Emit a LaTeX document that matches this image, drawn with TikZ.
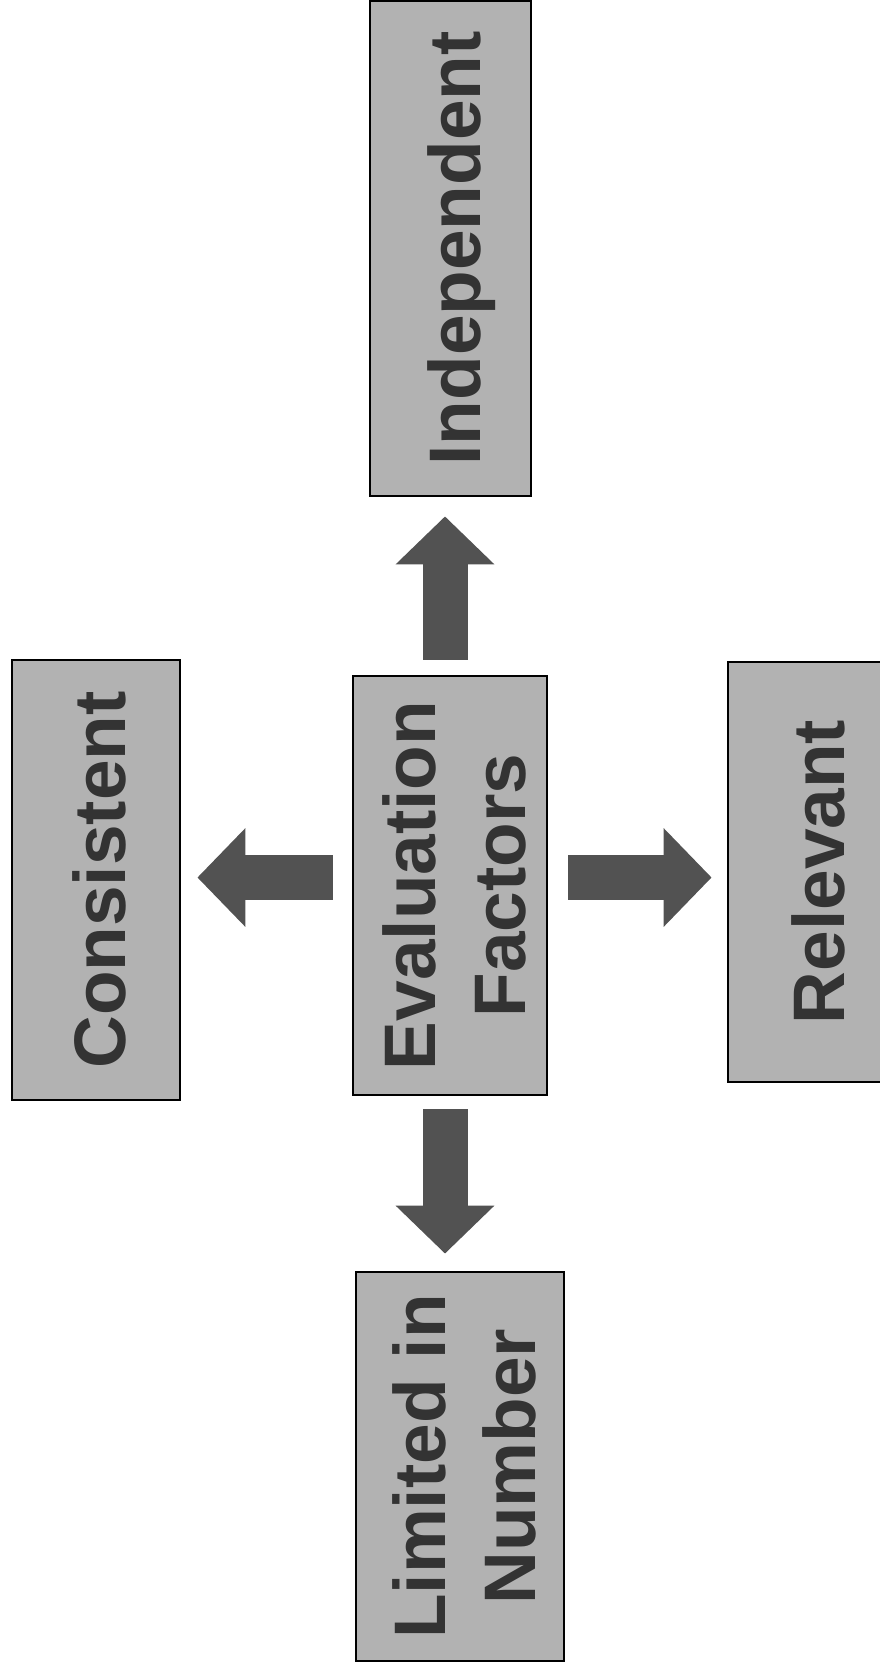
\documentclass[tikz,border=0pt]{standalone}
\usepackage{fontspec}
\setmainfont{Liberation Sans}
\usepackage{graphicx}
\usetikzlibrary{calc}
\usetikzlibrary{arrows.meta}
\newcommand{\factorfont}{\fontsize{36.5}{45}\selectfont\bfseries}
\newcommand{\vtext}[1]{\hspace*{6pt}\rotatebox{90}{\begin{tabular}{@{}c@{}}#1\end{tabular}}\hspace*{-6pt}}
\tikzstyle{factorbox}=[draw=black,line width=1.4pt,fill=black!30,text=black!80,inner sep=0pt,font=\factorfont]
\tikzstyle{fatarrow}=[draw=black!68,line width=22.5pt,-{Triangle[width=48pt,length=24pt]}]

\begin{document}
\begin{tikzpicture}[x=0.5pt,y=-0.5pt]
  \useasboundingbox (0,0) rectangle (879,1671);
  % boxes
  \node[factorbox,minimum width=97pt,minimum height=209.5pt] (eval) at (450,885.5) {\vtext{Evaluation\\Factors}};
  \node[factorbox,minimum width=80.5pt,minimum height=247.5pt] (indep) at (450.5,248.5) {\vtext{Independent}};
  \node[factorbox,minimum width=84pt,minimum height=220pt] (consist) at (96,880) {\vtext{Consistent}};
  \node[factorbox,minimum width=86pt,minimum height=210pt] (relev) at (814,872) {\vtext{Relevant}};
  \node[factorbox,minimum width=104pt,minimum height=194.5pt] (limit) at (460,1466.5) {\vtext{Limited in\\Number}};
  % arrows
  \draw[fatarrow,shorten <=7.5pt,shorten >=9.5pt] ([xshift=-2.5pt]eval.north) -- ([xshift=-2.5pt]eval.north |- indep.south);
  \draw[fatarrow,shorten <=6.5pt,shorten >=8.5pt] ([xshift=-2.5pt]eval.south) -- ([xshift=-2.5pt]eval.south |- limit.north);
  \draw[fatarrow,shorten <=9.5pt,shorten >=8pt] ([yshift=4pt]eval.west) -- ([yshift=4pt]eval.west -| consist.east);
  \draw[fatarrow,shorten <=10pt,shorten >=7.5pt] ([yshift=4pt]eval.east) -- ([yshift=4pt]eval.east -| relev.west);
\end{tikzpicture}
\end{document}
